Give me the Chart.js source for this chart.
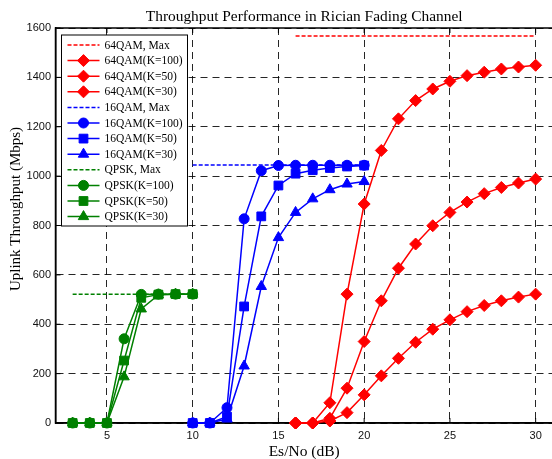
<!DOCTYPE html>
<html>
<head>
<meta charset="utf-8">
<script src="https://cdn.jsdelivr.net/npm/chart.js@4.4.0/dist/chart.umd.min.js"></script>
<style>
  html, body { margin: 0; padding: 0; background: #fff; overflow: hidden; }
  #wrap { width: 560px; height: 459px; }
</style>
</head>
<body>
<div id="wrap"><canvas id="chart" width="560" height="459"></canvas></div>
<script>
// --- Data ---
const snrQpsk = [3, 4, 5, 6, 7, 8, 9, 10];
const qpskK100 = [0, 0, 0, 341, 521, 522, 522, 522];
const qpskK50 = [0, 0, 0, 253, 507, 520, 522, 522];
const qpskK30 = [0, 0, 0, 187, 462, 519, 522, 522];
const qpskMax = 522;
const qpskMaxRange = [3, 10];

const snr16 = [10, 11, 12, 13, 14, 15, 16, 17, 18, 19, 20];
const qam16K100 = [0, 0, 62, 827, 1022, 1043, 1044, 1044, 1044, 1044, 1044];
const qam16K50 = [0, 0, 26, 472, 837, 962, 1010, 1024, 1033, 1039, 1043];
const qam16K30 = [0, 0, 16, 231, 553, 751, 853, 908, 945, 968, 978];
const qam16Max = 1045;
const qam16MaxRange = [10, 20];

const snr64 = [16, 17, 18, 19, 20, 21, 22, 23, 24, 25, 26, 27, 28, 29, 30];
const qam64K100 = [0, 0, 82, 522, 887, 1104, 1232, 1306, 1353, 1384, 1407, 1421, 1434, 1442, 1449];
const qam64K50 = [0, 0, 19, 141, 330, 495, 627, 725, 799, 853, 895, 929, 954, 972, 988];
const qam64K30 = [0, 0, 8, 42, 114, 191, 262, 327, 380, 418, 451, 476, 495, 510, 522];
const qam64Max = 1568;
const qam64MaxRange = [16, 30];

const xTicks = [5, 10, 15, 20, 25, 30];
const yTicks = [0, 200, 400, 600, 800, 1000, 1200, 1400, 1600];

const RED = '#ff0000', BLUE = '#0000ff', GREEN = '#008000';
const SERIF = '"Liberation Serif", "Times New Roman", serif';
const SANS = '"Liberation Sans", Arial, sans-serif';

const pts = (xs, ys) => xs.map((x, i) => ({ x: x, y: ys[i] }));
const flat = (range, v) => range.map(x => ({ x: x, y: v }));

function curve(label, xs, ys, color, style, radius) {
    return {
        label: label, data: pts(xs, ys),
        borderColor: color, backgroundColor: color,
        borderWidth: 1.5, pointStyle: style, pointRadius: radius,
        pointBorderWidth: 1, pointBackgroundColor: color, pointBorderColor: color,
        tension: 0, clip: false
    };
}
function maxLine(label, range, v, color) {
    return {
        label: label, data: flat(range, v),
        borderColor: color, backgroundColor: color,
        borderWidth: 1.5, borderDash: [4, 2], pointRadius: 0, tension: 0, clip: false
    };
}

const datasets = [
    maxLine('64QAM, Max', qam64MaxRange, qam64Max, RED),
    curve('64QAM(K=100)', snr64, qam64K100, RED, 'rectRot', 6),
    curve('64QAM(K=50)', snr64, qam64K50, RED, 'rectRot', 6),
    curve('64QAM(K=30)', snr64, qam64K30, RED, 'rectRot', 6),
    maxLine('16QAM, Max', qam16MaxRange, qam16Max, BLUE),
    curve('16QAM(K=100)', snr16, qam16K100, BLUE, 'circle', 5),
    curve('16QAM(K=50)', snr16, qam16K50, BLUE, 'rect', 6.2),
    curve('16QAM(K=30)', snr16, qam16K30, BLUE, 'triangle', 6),
    maxLine('QPSK, Max', qpskMaxRange, qpskMax, GREEN),
    curve('QPSK(K=100)', snrQpsk, qpskK100, GREEN, 'circle', 5),
    curve('QPSK(K=50)', snrQpsk, qpskK50, GREEN, 'rect', 6.2),
    curve('QPSK(K=30)', snrQpsk, qpskK30, GREEN, 'triangle', 6)
];

// frame, inside ticks, legend box and texts
const decor = {
    id: 'decor',
    beforeDatasetsDraw(chart) {
        const ctx = chart.ctx, a = chart.chartArea;
        const xs = chart.scales.x, ys = chart.scales.y;
        ctx.save();
        ctx.strokeStyle = '#000';
        ctx.lineWidth = 1;
        ctx.beginPath();
        xTicks.forEach(v => {
            const px = xs.getPixelForValue(v);
            ctx.moveTo(px, a.bottom); ctx.lineTo(px, a.bottom - 5);
            ctx.moveTo(px, a.top); ctx.lineTo(px, a.top + 5);
        });
        yTicks.forEach(v => {
            const py = ys.getPixelForValue(v);
            ctx.moveTo(a.left, py); ctx.lineTo(a.left + 5, py);
        });
        ctx.stroke();
        ctx.lineWidth = 1.5;
        ctx.beginPath();
        ctx.moveTo(a.right, a.top); ctx.lineTo(a.left, a.top);
        ctx.lineTo(a.left, a.bottom); ctx.lineTo(a.right, a.bottom);
        ctx.stroke();
        ctx.restore();
    },
    afterDraw(chart) {
        const ctx = chart.ctx, a = chart.chartArea;
        const cx = (a.left + a.right) / 2;
        ctx.save();
        // titles
        ctx.fillStyle = '#000';
        ctx.textAlign = 'center';
        ctx.textBaseline = 'alphabetic';
        ctx.font = '15.4px ' + SERIF;
        ctx.fillText('Throughput Performance in Rician Fading Channel', cx, 20.5);
        ctx.font = '15.5px ' + SERIF;
        ctx.fillText('Es/No (dB)', cx, 456);
        ctx.save();
        ctx.font = '15px ' + SERIF;
        ctx.translate(16, 209);
        ctx.rotate(-Math.PI / 2);
        ctx.textBaseline = 'middle';
        ctx.fillText('Uplink Throughput (Mbps)', 0, 0);
        ctx.restore();

        // legend
        const bx = a.left + 6, by = a.top + 7, bw = 126, bh = 191;
        ctx.fillStyle = '#fff';
        ctx.fillRect(bx, by, bw, bh);
        ctx.strokeStyle = '#000';
        ctx.lineWidth = 1;
        ctx.strokeRect(bx, by, bw, bh);
        ctx.font = '11.5px ' + SERIF;
        ctx.textAlign = 'left';
        ctx.textBaseline = 'middle';
        chart.data.datasets.forEach((ds, i) => {
            const y = by + 10 + i * 15.6;
            ctx.save();
            ctx.strokeStyle = ds.borderColor;
            ctx.lineWidth = 1.5;
            ctx.setLineDash(ds.borderDash || []);
            ctx.beginPath();
            ctx.moveTo(bx + 6, y); ctx.lineTo(bx + 38, y);
            ctx.stroke();
            ctx.restore();
            if (ds.pointRadius > 0 && Chart.helpers && Chart.helpers.drawPoint) {
                ctx.save();
                ctx.fillStyle = ds.borderColor;
                ctx.strokeStyle = ds.borderColor;
                ctx.lineWidth = 1;
                Chart.helpers.drawPoint(ctx, { pointStyle: ds.pointStyle, radius: ds.pointRadius, rotation: 0, borderWidth: 1 }, bx + 22, y);
                ctx.restore();
            }
            ctx.fillStyle = '#000';
            ctx.fillText(ds.label, bx + 43, y + 0.5);
        });
        ctx.restore();
    }
};

document.addEventListener("DOMContentLoaded", () => {
    const ctx = document.getElementById('chart').getContext('2d');
    new Chart(ctx, {
        type: 'line',
        data: { datasets: datasets },
        options: {
            responsive: false,
            animation: false,
            events: [],
            layout: { padding: { top: 28, right: 0, left: 0, bottom: 0 } },
            plugins: { legend: { display: false }, title: { display: false }, tooltip: { enabled: false } },
            scales: {
                x: {
                    type: 'linear', min: 2, max: 31,
                    afterBuildTicks: s => { s.ticks = xTicks.map(v => ({ value: v })); },
                    afterFit: s => { s.height = 36; s.paddingLeft = 0; s.paddingRight = 0; },
                    grid: { color: 'rgba(0,0,0,0.85)', lineWidth: 1, drawTicks: false },
                    border: { display: true, color: '#000', width: 1.5, dash: [7, 5] },
                    ticks: { padding: 6, color: '#111', font: { family: SANS, size: 11 }, maxRotation: 0, autoSkip: false,
                             callback: v => String(v) }
                },
                y: {
                    type: 'linear', min: 0, max: 1600,
                    afterBuildTicks: s => { s.ticks = yTicks.map(v => ({ value: v })); },
                    afterFit: s => { s.width = 55.5; s.paddingTop = 0; s.paddingBottom = 0; },
                    grid: { color: 'rgba(0,0,0,0.85)', lineWidth: 1, drawTicks: false },
                    border: { display: true, color: '#000', width: 1.5, dash: [7, 5] },
                    ticks: { padding: 4.5, color: '#111', font: { family: SANS, size: 11 }, autoSkip: false,
                             callback: v => String(v) }
                }
            }
        },
        plugins: [decor]
    });
});
</script>
</body>
</html>
